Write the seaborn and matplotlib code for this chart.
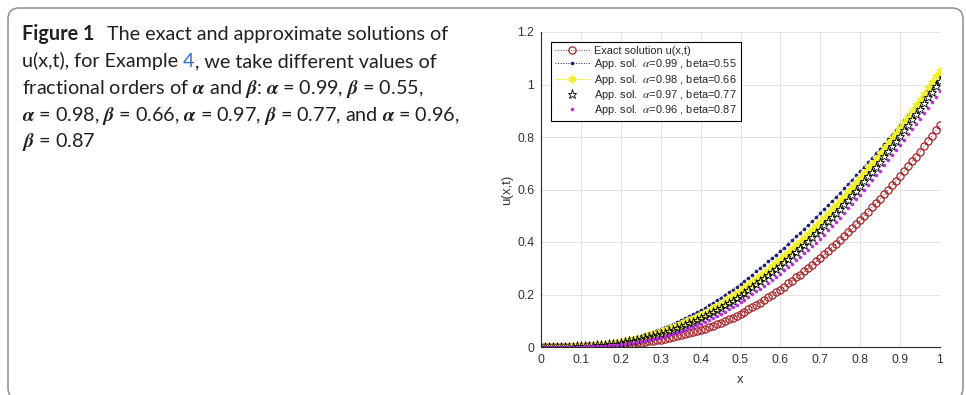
import numpy as np
import matplotlib
matplotlib.use("Agg")
import matplotlib.pyplot as plt
import seaborn as sns
from matplotlib.patches import FancyBboxPatch

# ---------------- data ----------------
x_grid = np.linspace(0, 1, 101)

exact = [0.000, 0.000, 0.000, 0.000, 0.000,
         0.000, 0.000, 0.000, 0.001, 0.001,
         0.001, 0.001, 0.002, 0.002, 0.003,
         0.003, 0.004, 0.005, 0.006, 0.007,
         0.008, 0.010, 0.011, 0.013, 0.014,
         0.016, 0.018, 0.021, 0.023, 0.026,
         0.028, 0.031, 0.034, 0.038, 0.041,
         0.044, 0.048, 0.052, 0.057, 0.061,
         0.065, 0.070, 0.076, 0.081, 0.087,
         0.092, 0.099, 0.106, 0.112, 0.119,
         0.126, 0.135, 0.143, 0.152, 0.160,
         0.169, 0.179, 0.189, 0.199, 0.209,
         0.219, 0.230, 0.242, 0.253, 0.265,
         0.276, 0.289, 0.301, 0.314, 0.326,
         0.339, 0.353, 0.367, 0.380, 0.394,
         0.408, 0.423, 0.438, 0.453, 0.468,
         0.483, 0.499, 0.515, 0.532, 0.548,
         0.564, 0.581, 0.599, 0.616, 0.634,
         0.651, 0.670, 0.688, 0.707, 0.725,
         0.744, 0.764, 0.785, 0.805, 0.826,
         0.846]

app_099_055 = [0.000, 0.000, 0.000, 0.001, 0.001,
               0.001, 0.002, 0.002, 0.003, 0.003,
               0.004, 0.006, 0.007, 0.009, 0.010,
               0.012, 0.014, 0.017, 0.019, 0.022,
               0.024, 0.028, 0.032, 0.035, 0.039,
               0.043, 0.048, 0.053, 0.058, 0.063,
               0.068, 0.075, 0.081, 0.088, 0.094,
               0.101, 0.109, 0.117, 0.124, 0.132,
               0.140, 0.149, 0.159, 0.168, 0.178,
               0.187, 0.198, 0.208, 0.219, 0.229,
               0.240, 0.252, 0.264, 0.276, 0.288,
               0.300, 0.313, 0.326, 0.339, 0.352,
               0.365, 0.379, 0.393, 0.408, 0.422,
               0.436, 0.451, 0.466, 0.480, 0.495,
               0.510, 0.526, 0.541, 0.557, 0.572,
               0.588, 0.604, 0.621, 0.637, 0.654,
               0.670, 0.687, 0.704, 0.721, 0.738,
               0.755, 0.773, 0.791, 0.809, 0.827,
               0.845, 0.863, 0.882, 0.900, 0.919,
               0.937, 0.956, 0.974, 0.993, 1.011,
               1.030]

app_098_066 = [0.000, 0.000, 0.000, 0.000, 0.000,
               0.000, 0.001, 0.001, 0.002, 0.002,
               0.003, 0.004, 0.005, 0.006, 0.007,
               0.008, 0.010, 0.012, 0.014, 0.016,
               0.018, 0.021, 0.025, 0.028, 0.032,
               0.035, 0.039, 0.044, 0.048, 0.053,
               0.057, 0.063, 0.069, 0.075, 0.081,
               0.087, 0.094, 0.101, 0.108, 0.115,
               0.122, 0.131, 0.139, 0.148, 0.156,
               0.165, 0.175, 0.185, 0.194, 0.204,
               0.214, 0.225, 0.236, 0.248, 0.259,
               0.270, 0.282, 0.295, 0.307, 0.320,
               0.332, 0.346, 0.360, 0.373, 0.387,
               0.401, 0.416, 0.431, 0.445, 0.460,
               0.475, 0.491, 0.507, 0.524, 0.540,
               0.556, 0.573, 0.591, 0.608, 0.626,
               0.643, 0.662, 0.681, 0.699, 0.718,
               0.737, 0.757, 0.777, 0.796, 0.816,
               0.836, 0.857, 0.878, 0.900, 0.921,
               0.942, 0.964, 0.986, 1.009, 1.031,
               1.053]

app_097_077 = [0.000, 0.000, 0.000, 0.000, 0.000,
               0.000, 0.000, 0.001, 0.001, 0.002,
               0.002, 0.003, 0.004, 0.005, 0.006,
               0.007, 0.009, 0.010, 0.012, 0.013,
               0.015, 0.018, 0.021, 0.024, 0.027,
               0.030, 0.034, 0.038, 0.042, 0.046,
               0.050, 0.055, 0.061, 0.066, 0.072,
               0.077, 0.084, 0.090, 0.097, 0.103,
               0.110, 0.118, 0.126, 0.134, 0.142,
               0.150, 0.159, 0.168, 0.177, 0.186,
               0.195, 0.206, 0.217, 0.228, 0.239,
               0.250, 0.262, 0.274, 0.286, 0.298,
               0.310, 0.323, 0.336, 0.350, 0.363,
               0.376, 0.390, 0.404, 0.419, 0.433,
               0.447, 0.463, 0.479, 0.495, 0.511,
               0.527, 0.544, 0.561, 0.578, 0.595,
               0.612, 0.631, 0.650, 0.668, 0.687,
               0.706, 0.726, 0.746, 0.765, 0.785,
               0.805, 0.826, 0.846, 0.867, 0.887,
               0.908, 0.929, 0.951, 0.972, 0.994,
               1.015]

app_096_087 = [0.000, 0.000, 0.000, 0.000, 0.000,
               0.000, 0.000, 0.000, 0.001, 0.001,
               0.001, 0.002, 0.002, 0.003, 0.003,
               0.004, 0.005, 0.006, 0.008, 0.009,
               0.010, 0.012, 0.014, 0.017, 0.019,
               0.021, 0.024, 0.027, 0.030, 0.033,
               0.036, 0.041, 0.045, 0.050, 0.054,
               0.059, 0.065, 0.071, 0.076, 0.082,
               0.088, 0.096, 0.103, 0.111, 0.118,
               0.126, 0.135, 0.144, 0.152, 0.161,
               0.170, 0.180, 0.191, 0.201, 0.212,
               0.222, 0.234, 0.245, 0.257, 0.268,
               0.280, 0.293, 0.305, 0.318, 0.330,
               0.343, 0.357, 0.371, 0.384, 0.398,
               0.412, 0.428, 0.444, 0.461, 0.477,
               0.493, 0.510, 0.528, 0.545, 0.563,
               0.580, 0.598, 0.617, 0.635, 0.654,
               0.672, 0.692, 0.711, 0.731, 0.750,
               0.770, 0.790, 0.810, 0.830, 0.850,
               0.870, 0.891, 0.912, 0.933, 0.954,
               0.975]

series_labels = ["Exact solution u(x,t)",
                 r"App. sol.  $\alpha$=0.99 , beta=0.55",
                 r"App. sol.  $\alpha$=0.98 , beta=0.66",
                 r"App. sol.  $\alpha$=0.97 , beta=0.77",
                 r"App. sol.  $\alpha$=0.96 , beta=0.87"]

x_ticks = [0, 0.1, 0.2, 0.3, 0.4, 0.5, 0.6, 0.7, 0.8, 0.9, 1]
x_tick_labels = ["0", "0.1", "0.2", "0.3", "0.4", "0.5", "0.6", "0.7", "0.8", "0.9", "1"]
y_ticks = [0, 0.2, 0.4, 0.6, 0.8, 1.0, 1.2]
y_tick_labels = ["0", "0.2", "0.4", "0.6", "0.8", "1", "1.2"]

# ---------------- style ----------------
sns.set_style("white")
plt.rcParams["font.family"] = ["Liberation Sans", "DejaVu Sans"]
plt.rcParams["mathtext.fontset"] = "stix"

W, H = 966, 395
fig = plt.figure(figsize=(W / 100, H / 100), dpi=100)
fig.patch.set_facecolor("white")

# outer rounded frame
frame = FancyBboxPatch((8, -4), 955, 391, boxstyle="round,pad=0,rounding_size=11",
                       transform=None, facecolor="none", edgecolor="#8e8e8e", linewidth=1.1)
fig.add_artist(frame)

ax = fig.add_axes([541 / W, 48 / H, 399 / W, 315 / H])

common = dict(ax=ax, estimator=None, sort=False)
sns.lineplot(x=x_grid, y=exact, color="#a3262a", marker="o", markersize=5.2,
             markerfacecolor="none", markeredgecolor="#a3262a", markeredgewidth=0.9,
             linestyle=":", linewidth=0.7, label=series_labels[0], **common)
sns.lineplot(x=x_grid, y=app_099_055, color="#1c1c6e", marker=".", markersize=4.2,
             markerfacecolor="#1c1c6e", markeredgecolor="#1c1c6e", markeredgewidth=0.5,
             linestyle=":", linewidth=0.7, label=series_labels[1], **common)
sns.lineplot(x=x_grid, y=app_098_066, color="#f0f02a", marker=(6, 2, 0), markersize=6,
             markerfacecolor="#f0f02a", markeredgecolor="#f0f02a", markeredgewidth=1.1,
             linestyle="-", linewidth=0.5, label=series_labels[2], **common)
sns.lineplot(x=x_grid, y=app_097_077, color="black", marker="*", markersize=6.5,
             markerfacecolor="none", markeredgecolor="black", markeredgewidth=0.6,
             linestyle="none", label=series_labels[3], **common)
sns.lineplot(x=x_grid, y=app_096_087, color="#b52fd6", marker=".", markersize=4.2,
             markerfacecolor="#b52fd6", markeredgecolor="#b52fd6", markeredgewidth=0.5,
             linestyle="none", label=series_labels[4], **common)

ax.set_xlim(0, 1)
ax.set_ylim(0, 1.2)
ax.set_xticks(x_ticks)
ax.set_xticklabels(x_tick_labels)
ax.set_yticks(y_ticks)
ax.set_yticklabels(y_tick_labels)
ax.grid(True, color="#dedede", linewidth=0.6)
ax.set_axisbelow(True)
for s in ["top", "right"]:
    ax.spines[s].set_visible(False)
for s in ["left", "bottom"]:
    ax.spines[s].set_color("#262626")
    ax.spines[s].set_linewidth(0.8)
ax.tick_params(direction="in", length=3, width=0.6, colors="#333333", labelsize=8.8, pad=5)
ax.set_xlabel("x", fontsize=9.5, color="#333333", labelpad=6)
ax.set_ylabel("u(x,t)", fontsize=9.5, color="#333333", labelpad=3)

leg = ax.legend(loc="upper left", bbox_to_anchor=(0.025, 0.968), fontsize=7.9,
                frameon=True, fancybox=False, edgecolor="black", framealpha=1,
                handlelength=3.2, handletextpad=0.4, labelspacing=0.12,
                borderpad=0.35, borderaxespad=0, numpoints=1)
leg.get_frame().set_linewidth(0.8)

# ---------------- caption ----------------
cap_font = "Lato"
cap_size = 14.2
cap_color = "#231f20"
renderer = fig.canvas.get_renderer()


def text_width(s, **kw):
    t1 = fig.text(0, 0, s + "|", fontsize=cap_size, family=cap_font, **kw)
    t2 = fig.text(0, 0, "|", fontsize=cap_size, family=cap_font, **kw)
    w = t1.get_window_extent(renderer).width - t2.get_window_extent(renderer).width
    t1.remove()
    t2.remove()
    return w


def put(x_px, y_px, s, **kw):
    fig.text(x_px / W, 1 - y_px / H, s, fontsize=cap_size, family=cap_font,
             va="baseline", ha="left", color=kw.pop("color", cap_color), **kw)


x0 = 22
base = [40, 67, 94, 121, 147]
reg = dict(weight="normal")

put(x0, base[0], "Figure 1", weight="bold")
put(x0 + text_width("Figure 1", weight="bold") + 13, base[0],
    "The exact and approximate solutions of", **reg)

p1 = "u(x,t), for Example "
put(x0, base[1], p1, **reg)
put(x0 + text_width(p1, **reg), base[1], "4", color="#2f6fd6", **reg)
put(x0 + text_width(p1 + "4", **reg), base[1], ", we take different values of", **reg)

A = r"$\boldsymbol{\alpha}$"
B = r"$\boldsymbol{\beta}$"
put(x0, base[2], "fractional orders of " + A + " and " + B + ": " + A + " = 0.99, " + B + " = 0.55,", **reg)
put(x0, base[3], A + " = 0.98, " + B + " = 0.66, " + A + " = 0.97, " + B + " = 0.77, and " + A + " = 0.96,", **reg)
put(x0, base[4], B + " = 0.87", **reg)

fig.savefig("out.png", dpi=100)
